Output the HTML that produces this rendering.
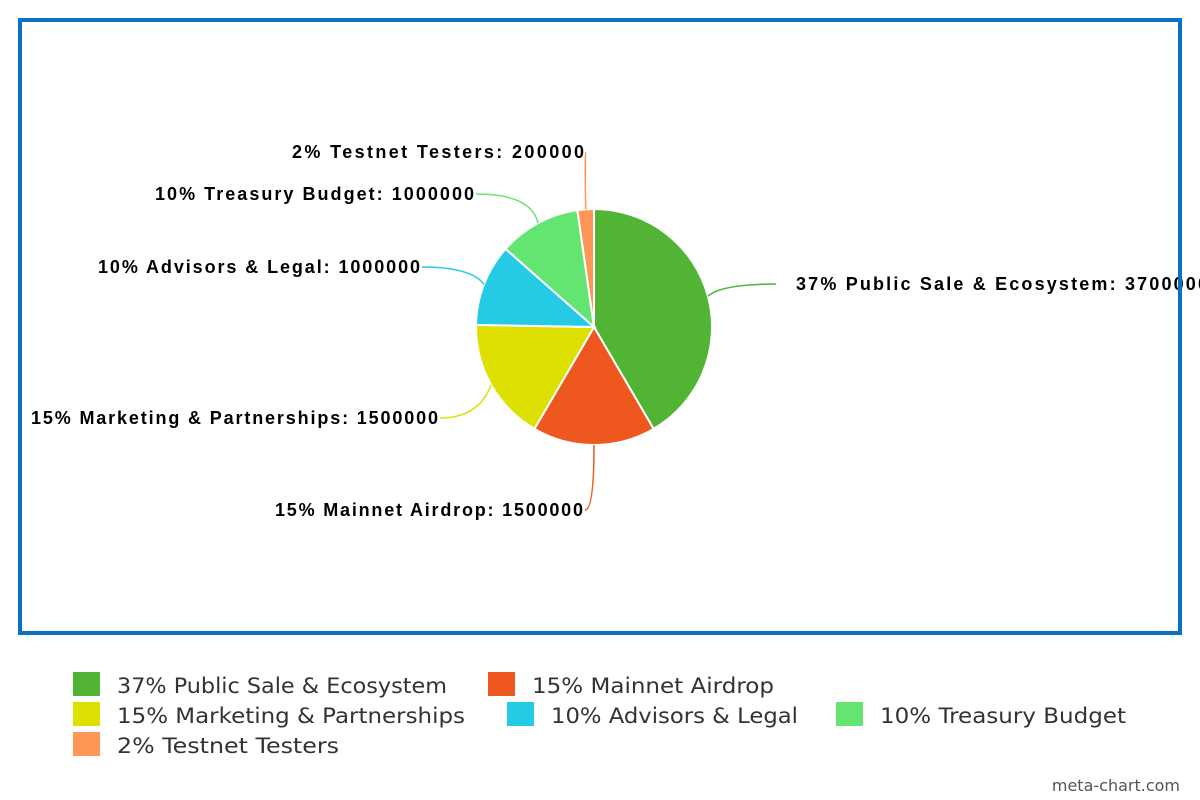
<!DOCTYPE html>
<html><head><meta charset="utf-8"><style>
html,body{margin:0;padding:0;background:#fff;width:1200px;height:800px;overflow:hidden}
svg{display:block}
.lbl{font-family:"Liberation Sans",Arial,sans-serif;font-weight:bold;font-size:18px;fill:#000}
.leg{font-family:"DejaVu Sans","Liberation Sans",sans-serif;font-size:21px;fill:#333}
</style></head><body>
<svg id="chart" width="1200" height="800">
<g id="slices"></g>
<g id="callouts"></g>
<rect x="20" y="20" width="1160" height="613" fill="none" stroke="#0a70c0" stroke-width="4"/>
<g id="legend"></g>
<text x="1180" y="791" text-anchor="end" font-family="DejaVu Sans,Liberation Sans,sans-serif" font-size="16" fill="#555">meta-chart.com</text>
</svg>
<script>
const categories = ["Public Sale & Ecosystem","Mainnet Airdrop","Marketing & Partnerships","Advisors & Legal","Treasury Budget","Testnet Testers"];
const percents = [37,15,15,10,10,2];
const values = [3700000,1500000,1500000,1000000,1000000,200000];
const colors = ["#52b435","#ee571e","#dde000","#25cbe4","#64e572","#ff9655"];
// layout (label anchor positions/widths, not data)
const labelPos = [[796,290,"start"],[583,516,"end"],[438,424,"end"],[420,273,"end"],[474,200,"end"],[584,158,"end"]];
const labelW = [412,308,407,322,319,292];
const legendPos = [[73,672],[488,672],[73,702],[507,702],[836,702],[73,732]];
const legendW = [330,242,348,247,246,222];

const NS="http://www.w3.org/2000/svg";
const cx=594, cy=327, R=118;
const total = values.reduce((a,b)=>a+b,0);
function pt(a,r){return [cx+r*Math.sin(a), cy-r*Math.cos(a)];}
const gS=document.getElementById('slices'), gC=document.getElementById('callouts'), gL=document.getElementById('legend');
let acc=0;
values.forEach((v,i)=>{
  const a0=acc/total*2*Math.PI; acc+=v; const a1=acc/total*2*Math.PI;
  const p0=pt(a0,R), p1=pt(a1,R);
  const large=(a1-a0)>Math.PI?1:0;
  const path=document.createElementNS(NS,'path');
  path.setAttribute('d',`M${cx},${cy}L${p0[0]},${p0[1]}A${R},${R} 0 ${large} 1 ${p1[0]},${p1[1]}Z`);
  path.setAttribute('fill',colors[i]); path.setAttribute('stroke','#fff'); path.setAttribute('stroke-width','2');
  
  
  gS.appendChild(path);
  const am=(a0+a1)/2, s=pt(am,R), m=pt(am,R+14);
  const lp=labelPos[i]; const ex = lp[2]==="start"? lp[0]-20 : lp[0]+2; const ey=lp[1]-6;
  const line=document.createElementNS(NS,'path');
  line.setAttribute('d',`M${s[0]},${s[1]}Q${m[0]},${ey} ${ex},${ey}`);
  line.setAttribute('fill','none'); line.setAttribute('stroke',colors[i]); line.setAttribute('stroke-width','1.5');
  
  
  gC.appendChild(line);
  const t=document.createElementNS(NS,'text');
  t.setAttribute('x',lp[0]); t.setAttribute('y',lp[1]); t.setAttribute('text-anchor',lp[2]); t.setAttribute('class','lbl');
  t.setAttribute('textLength',labelW[i]); t.setAttribute('lengthAdjust','spacing');
  t.textContent=percents[i]+'% '+categories[i]+': '+values[i];
  
  
  gC.appendChild(t);
  const lg=legendPos[i];
  const r=document.createElementNS(NS,'rect');
  r.setAttribute('x',lg[0]); r.setAttribute('y',lg[1]); r.setAttribute('width',27); r.setAttribute('height',24); r.setAttribute('fill',colors[i]);
  
  
  gL.appendChild(r);
  const lt=document.createElementNS(NS,'text');
  lt.setAttribute('x',lg[0]+44); lt.setAttribute('y',lg[1]+21); lt.setAttribute('class','leg');
  lt.setAttribute('textLength',legendW[i]); lt.setAttribute('lengthAdjust','spacingAndGlyphs');
  lt.textContent=percents[i]+'% '+categories[i];
  
  
  gL.appendChild(lt);
});
</script>
</body></html>
